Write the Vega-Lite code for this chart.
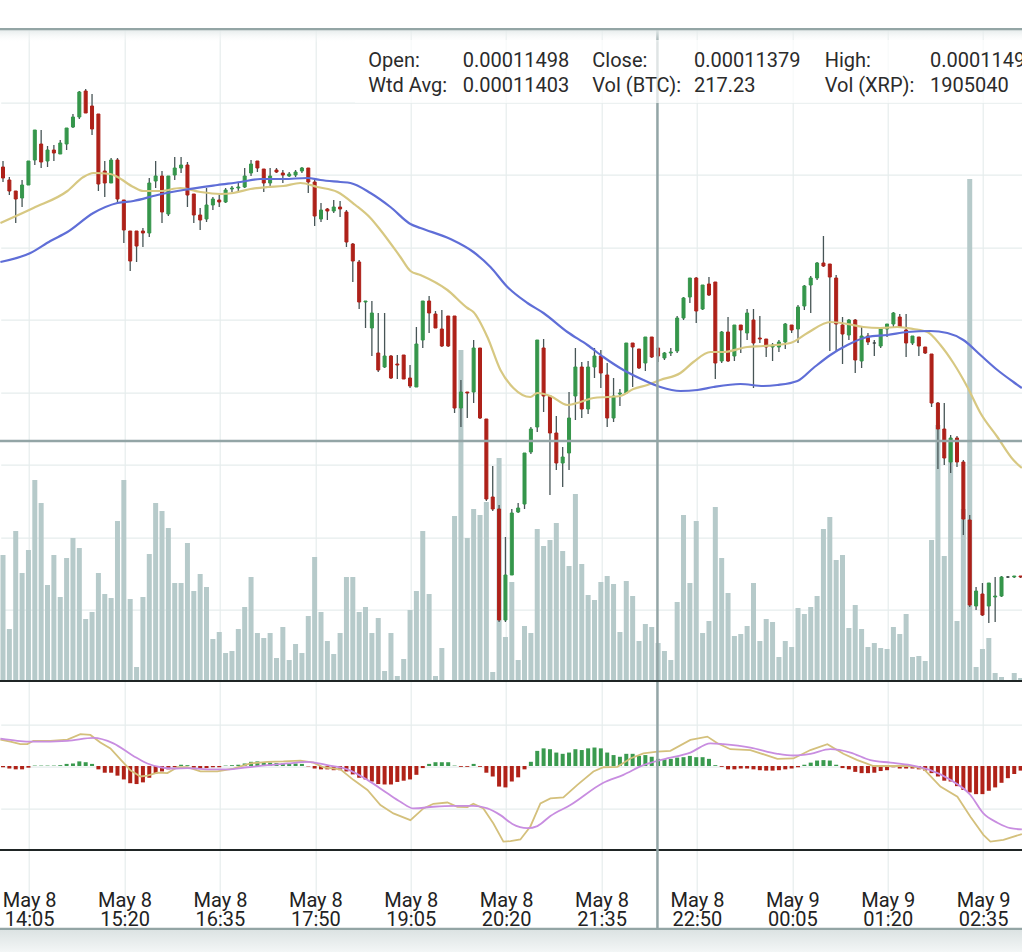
{
"$schema":"https://vega.github.io/schema/vega-lite/v6.json",
"background":"white",
"padding":{"left":0,"right":0,"top":28,"bottom":0},
"config":{"view":{"stroke":null},"font":"Roboto","axis":{"gridColor":"#e6eded","gridWidth":1.2,"translate":1.2,"tickSize":0,"minExtent":0}},
"datasets":{
"candles":[
{"i":0,"o":833,"h":839,"l":818,"c":822,"vol":635,"hist":-0.03},
{"i":1,"o":820,"h":823,"l":805,"c":809,"vol":265,"hist":-0.06},
{"i":2,"o":809,"h":809,"l":777,"c":801,"vol":755,"hist":-0.08},
{"i":3,"o":802,"h":820,"l":793,"c":815,"vol":545,"hist":-0.08},
{"i":4,"o":815,"h":839,"l":815,"c":839,"vol":660,"hist":-0.04},
{"i":5,"o":840,"h":870,"l":835,"c":870,"vol":1010,"hist":0.01},
{"i":6,"o":856,"h":870,"l":832,"c":838,"vol":895,"hist":0.01},
{"i":7,"o":839,"h":854,"l":833,"c":850,"vol":485,"hist":0.01},
{"i":8,"o":850,"h":855,"l":839,"c":847,"vol":635,"hist":0.01},
{"i":9,"o":846,"h":860,"l":846,"c":857,"vol":425,"hist":0.02},
{"i":10,"o":856,"h":872,"l":850,"c":872,"vol":620,"hist":0.05},
{"i":11,"o":873,"h":886,"l":872,"c":883,"vol":720,"hist":0.06},
{"i":12,"o":883,"h":909,"l":881,"c":908,"vol":670,"hist":0.11},
{"i":13,"o":909,"h":911,"l":887,"c":887,"vol":315,"hist":0.09},
{"i":14,"o":894,"h":906,"l":865,"c":871,"vol":350,"hist":0.05},
{"i":15,"o":886,"h":886,"l":809,"c":816,"vol":545,"hist":-0.08},
{"i":16,"o":829,"h":839,"l":803,"c":817,"vol":440,"hist":-0.16},
{"i":17,"o":817,"h":842,"l":817,"c":840,"vol":420,"hist":-0.16},
{"i":18,"o":840,"h":842,"l":797,"c":801,"vol":805,"hist":-0.23},
{"i":19,"o":800,"h":800,"l":757,"c":770,"vol":1010,"hist":-0.32},
{"i":20,"o":769,"h":769,"l":729,"c":739,"vol":415,"hist":-0.41},
{"i":21,"o":769,"h":769,"l":738,"c":754,"vol":75,"hist":-0.43},
{"i":22,"o":769,"h":772,"l":753,"c":767,"vol":425,"hist":-0.39},
{"i":23,"o":767,"h":822,"l":763,"c":817,"vol":640,"hist":-0.28},
{"i":24,"o":819,"h":839,"l":812,"c":824,"vol":895,"hist":-0.18},
{"i":25,"o":824,"h":829,"l":777,"c":788,"vol":855,"hist":-0.13},
{"i":26,"o":786,"h":824,"l":784,"c":824,"vol":770,"hist":-0.08},
{"i":27,"o":825,"h":843,"l":820,"c":832,"vol":495,"hist":-0.03},
{"i":28,"o":832,"h":843,"l":827,"c":835,"vol":495,"hist":0.03},
{"i":29,"o":835,"h":838,"l":793,"c":805,"vol":695,"hist":0.02},
{"i":30,"o":806,"h":806,"l":777,"c":785,"vol":455,"hist":-0.04},
{"i":31,"o":785,"h":792,"l":770,"c":780,"vol":540,"hist":-0.06},
{"i":32,"o":781,"h":812,"l":778,"c":795,"vol":475,"hist":-0.05},
{"i":33,"o":795,"h":803,"l":790,"c":801,"vol":215,"hist":-0.03},
{"i":34,"o":800,"h":805,"l":793,"c":798,"vol":250,"hist":-0.03},
{"i":35,"o":798,"h":812,"l":797,"c":810,"vol":145,"hist":0.01},
{"i":36,"o":811,"h":814,"l":808,"c":812,"vol":155,"hist":0.02},
{"i":37,"o":812,"h":817,"l":808,"c":813,"vol":265,"hist":0.03},
{"i":38,"o":813,"h":832,"l":812,"c":824,"vol":375,"hist":0.06},
{"i":39,"o":827,"h":840,"l":824,"c":836,"vol":525,"hist":0.10},
{"i":40,"o":839,"h":839,"l":828,"c":832,"vol":245,"hist":0.11},
{"i":41,"o":831,"h":831,"l":808,"c":817,"vol":220,"hist":0.08},
{"i":42,"o":817,"h":832,"l":812,"c":824,"vol":245,"hist":0.08},
{"i":43,"o":830,"h":832,"l":827,"c":828,"vol":120,"hist":0.07},
{"i":44,"o":827,"h":830,"l":817,"c":825,"vol":275,"hist":0.06},
{"i":45,"o":824,"h":828,"l":823,"c":826,"vol":110,"hist":0.06},
{"i":46,"o":825,"h":830,"l":823,"c":828,"vol":190,"hist":0.06},
{"i":47,"o":829,"h":833,"l":827,"c":832,"vol":145,"hist":0.05},
{"i":48,"o":832,"h":832,"l":807,"c":818,"vol":330,"hist":-0.01},
{"i":49,"o":818,"h":820,"l":774,"c":784,"vol":625,"hist":-0.06},
{"i":50,"o":781,"h":797,"l":778,"c":790,"vol":350,"hist":-0.08},
{"i":51,"o":791,"h":792,"l":780,"c":789,"vol":205,"hist":-0.08},
{"i":52,"o":789,"h":800,"l":787,"c":793,"vol":140,"hist":-0.10},
{"i":53,"o":793,"h":799,"l":783,"c":791,"vol":245,"hist":-0.10},
{"i":54,"o":788,"h":790,"l":753,"c":758,"vol":525,"hist":-0.13},
{"i":55,"o":756,"h":757,"l":718,"c":739,"vol":525,"hist":-0.20},
{"i":56,"o":738,"h":740,"l":691,"c":698,"vol":350,"hist":-0.28},
{"i":57,"o":698,"h":699,"l":672,"c":699,"vol":375,"hist":-0.32},
{"i":58,"o":672,"h":699,"l":644,"c":687,"vol":245,"hist":-0.37},
{"i":59,"o":647,"h":687,"l":628,"c":630,"vol":320,"hist":-0.43},
{"i":60,"o":633,"h":687,"l":632,"c":644,"vol":55,"hist":-0.44},
{"i":61,"o":644,"h":645,"l":621,"c":622,"vol":245,"hist":-0.44},
{"i":62,"o":636,"h":645,"l":621,"c":635,"vol":30,"hist":-0.38},
{"i":63,"o":645,"h":645,"l":621,"c":621,"vol":115,"hist":-0.35},
{"i":64,"o":622,"h":635,"l":612,"c":614,"vol":360,"hist":-0.32},
{"i":65,"o":613,"h":673,"l":613,"c":656,"vol":455,"hist":-0.21},
{"i":66,"o":660,"h":699,"l":652,"c":699,"vol":755,"hist":-0.05},
{"i":67,"o":699,"h":704,"l":667,"c":687,"vol":440,"hist":0.05},
{"i":68,"o":686,"h":689,"l":672,"c":672,"vol":30,"hist":0.09},
{"i":69,"o":671,"h":690,"l":653,"c":654,"vol":170,"hist":0.09},
{"i":70,"o":684,"h":684,"l":653,"c":654,"vol":0,"hist":0.09},
{"i":71,"o":684,"h":684,"l":587,"c":592,"vol":830,"hist":0.01},
{"i":72,"o":592,"h":620,"l":573,"c":608,"vol":1660,"hist":-0.02},
{"i":73,"o":608,"h":608,"l":582,"c":607,"vol":720,"hist":-0.02},
{"i":74,"o":608,"h":660,"l":597,"c":652,"vol":865,"hist":0.05},
{"i":75,"o":652,"h":652,"l":581,"c":582,"vol":835,"hist":-0.02},
{"i":76,"o":581,"h":581,"l":499,"c":501,"vol":900,"hist":-0.16},
{"i":77,"o":503,"h":534,"l":489,"c":491,"vol":50,"hist":-0.25},
{"i":78,"o":491,"h":495,"l":378,"c":380,"vol":1120,"hist":-0.49},
{"i":79,"o":380,"h":463,"l":378,"c":425,"vol":225,"hist":-0.51},
{"i":80,"o":425,"h":491,"l":425,"c":487,"vol":500,"hist":-0.37},
{"i":81,"o":488,"h":497,"l":487,"c":492,"vol":110,"hist":-0.27},
{"i":82,"o":496,"h":547,"l":491,"c":547,"vol":280,"hist":-0.08},
{"i":83,"o":548,"h":573,"l":546,"c":571,"vol":245,"hist":0.10},
{"i":84,"o":573,"h":660,"l":568,"c":660,"vol":765,"hist":0.36},
{"i":85,"o":652,"h":661,"l":588,"c":604,"vol":680,"hist":0.42},
{"i":86,"o":604,"h":605,"l":505,"c":567,"vol":710,"hist":0.40},
{"i":87,"o":567,"h":584,"l":530,"c":537,"vol":795,"hist":0.32},
{"i":88,"o":537,"h":553,"l":513,"c":543,"vol":655,"hist":0.29},
{"i":89,"o":547,"h":608,"l":530,"c":582,"vol":580,"hist":0.32},
{"i":90,"o":604,"h":652,"l":580,"c":633,"vol":940,"hist":0.40},
{"i":91,"o":633,"h":638,"l":582,"c":591,"vol":590,"hist":0.38},
{"i":92,"o":591,"h":639,"l":586,"c":633,"vol":435,"hist":0.42},
{"i":93,"o":633,"h":652,"l":622,"c":644,"vol":410,"hist":0.44},
{"i":94,"o":644,"h":650,"l":612,"c":627,"vol":500,"hist":0.42},
{"i":95,"o":625,"h":637,"l":573,"c":582,"vol":530,"hist":0.32},
{"i":96,"o":582,"h":622,"l":578,"c":604,"vol":490,"hist":0.26},
{"i":97,"o":606,"h":611,"l":594,"c":607,"vol":250,"hist":0.22},
{"i":98,"o":607,"h":657,"l":607,"c":657,"vol":505,"hist":0.29},
{"i":99,"o":657,"h":657,"l":613,"c":653,"vol":430,"hist":0.29},
{"i":100,"o":651,"h":651,"l":631,"c":632,"vol":205,"hist":0.24},
{"i":101,"o":637,"h":663,"l":629,"c":663,"vol":290,"hist":0.26},
{"i":102,"o":663,"h":663,"l":642,"c":643,"vol":275,"hist":0.22},
{"i":103,"o":652,"h":652,"l":638,"c":644,"vol":195,"hist":0.17},
{"i":104,"o":642,"h":648,"l":640,"c":647,"vol":155,"hist":0.16},
{"i":105,"o":647,"h":652,"l":644,"c":648,"vol":110,"hist":0.17},
{"i":106,"o":649,"h":684,"l":647,"c":682,"vol":400,"hist":0.20},
{"i":107,"o":682,"h":703,"l":680,"c":702,"vol":835,"hist":0.21},
{"i":108,"o":703,"h":722,"l":697,"c":722,"vol":495,"hist":0.24},
{"i":109,"o":722,"h":723,"l":677,"c":689,"vol":805,"hist":0.21},
{"i":110,"o":691,"h":715,"l":690,"c":715,"vol":245,"hist":0.21},
{"i":111,"o":716,"h":723,"l":704,"c":705,"vol":305,"hist":0.17},
{"i":112,"o":718,"h":718,"l":621,"c":637,"vol":875,"hist":0.02},
{"i":113,"o":639,"h":669,"l":637,"c":668,"vol":620,"hist":-0.02},
{"i":114,"o":668,"h":683,"l":638,"c":639,"vol":445,"hist":-0.08},
{"i":115,"o":644,"h":675,"l":639,"c":675,"vol":230,"hist":-0.08},
{"i":116,"o":675,"h":675,"l":647,"c":670,"vol":240,"hist":-0.06},
{"i":117,"o":667,"h":691,"l":660,"c":687,"vol":280,"hist":-0.06},
{"i":118,"o":680,"h":691,"l":612,"c":657,"vol":495,"hist":-0.08},
{"i":119,"o":662,"h":684,"l":657,"c":661,"vol":205,"hist":-0.10},
{"i":120,"o":661,"h":661,"l":643,"c":653,"vol":315,"hist":-0.11},
{"i":121,"o":653,"h":657,"l":639,"c":655,"vol":300,"hist":-0.11},
{"i":122,"o":653,"h":660,"l":648,"c":658,"vol":125,"hist":-0.10},
{"i":123,"o":658,"h":677,"l":651,"c":676,"vol":205,"hist":-0.08},
{"i":124,"o":675,"h":675,"l":667,"c":670,"vol":175,"hist":-0.06},
{"i":125,"o":671,"h":695,"l":657,"c":693,"vol":370,"hist":-0.03},
{"i":126,"o":694,"h":715,"l":690,"c":714,"vol":340,"hist":0.03},
{"i":127,"o":715,"h":724,"l":687,"c":722,"vol":375,"hist":0.08},
{"i":128,"o":722,"h":738,"l":720,"c":737,"vol":430,"hist":0.13},
{"i":129,"o":737,"h":764,"l":733,"c":734,"vol":765,"hist":0.14},
{"i":130,"o":736,"h":736,"l":649,"c":723,"vol":825,"hist":0.13},
{"i":131,"o":722,"h":725,"l":648,"c":676,"vol":610,"hist":0.03},
{"i":132,"o":675,"h":683,"l":636,"c":666,"vol":635,"hist":-0.05},
{"i":133,"o":665,"h":681,"l":660,"c":680,"vol":270,"hist":-0.08},
{"i":134,"o":680,"h":681,"l":627,"c":640,"vol":385,"hist":-0.14},
{"i":135,"o":639,"h":674,"l":632,"c":664,"vol":265,"hist":-0.17},
{"i":136,"o":664,"h":667,"l":655,"c":658,"vol":175,"hist":-0.17},
{"i":137,"o":657,"h":660,"l":644,"c":657,"vol":195,"hist":-0.16},
{"i":138,"o":654,"h":673,"l":652,"c":671,"vol":170,"hist":-0.12},
{"i":139,"o":671,"h":676,"l":663,"c":676,"vol":165,"hist":-0.10},
{"i":140,"o":676,"h":688,"l":673,"c":687,"vol":275,"hist":-0.03},
{"i":141,"o":683,"h":686,"l":673,"c":673,"vol":240,"hist":-0.06},
{"i":142,"o":670,"h":686,"l":643,"c":657,"vol":340,"hist":-0.06},
{"i":143,"o":657,"h":664,"l":655,"c":664,"vol":125,"hist":-0.06},
{"i":144,"o":663,"h":663,"l":644,"c":654,"vol":130,"hist":-0.08},
{"i":145,"o":653,"h":653,"l":646,"c":647,"vol":105,"hist":-0.11},
{"i":146,"o":646,"h":646,"l":593,"c":597,"vol":710,"hist":-0.17},
{"i":147,"o":597,"h":598,"l":531,"c":571,"vol":1285,"hist":-0.25},
{"i":148,"o":571,"h":597,"l":535,"c":542,"vol":630,"hist":-0.35},
{"i":149,"o":538,"h":565,"l":527,"c":562,"vol":1210,"hist":-0.37},
{"i":150,"o":562,"h":564,"l":533,"c":538,"vol":305,"hist":-0.48},
{"i":151,"o":538,"h":540,"l":465,"c":481,"vol":865,"hist":-0.57},
{"i":152,"o":480,"h":485,"l":393,"c":395,"vol":2515,"hist":-0.63},
{"i":153,"o":394,"h":413,"l":390,"c":409,"vol":75,"hist":-0.67},
{"i":154,"o":406,"h":417,"l":384,"c":385,"vol":165,"hist":-0.67},
{"i":155,"o":394,"h":417,"l":377,"c":417,"vol":220,"hist":-0.59},
{"i":156,"o":403,"h":423,"l":378,"c":404,"vol":45,"hist":-0.51},
{"i":157,"o":404,"h":424,"l":403,"c":423,"vol":25,"hist":-0.40},
{"i":158,"o":423,"h":424,"l":422,"c":423,"vol":0,"hist":-0.29},
{"i":159,"o":423,"h":424,"l":422,"c":424,"vol":45,"hist":-0.19},
{"i":160,"o":424,"h":424,"l":422,"c":423,"vol":20,"hist":-0.11}
],
"ma1":[
{"i":-0.41,"v":777},{"i":4.78,"v":792},{"i":10.13,"v":809},{"i":12.64,"v":823},{"i":14.21,"v":827},{"i":16.89,"v":826},{"i":17.99,"v":823},{"i":20.5,"v":813},{"i":22.08,"v":809},{"i":24.75,"v":809},{"i":27.89,"v":812},{"i":31.04,"v":808},{"i":34.18,"v":806},{"i":36.23,"v":807},{"i":38.9,"v":811},{"i":41.57,"v":813},{"i":44.06,"v":814},{"i":46.76,"v":817},{"i":49.43,"v":813},{"i":52.58,"v":808},{"i":55.4,"v":795},{"i":57.77,"v":782},{"i":59.34,"v":770},{"i":62.48,"v":743},{"i":64.06,"v":729},{"i":65.63,"v":725},{"i":69.87,"v":710},{"i":73.02,"v":692},{"i":73.96,"v":688},{"i":76.16,"v":663},{"i":78.21,"v":630},{"i":80.25,"v":612},{"i":82.92,"v":603},{"i":84.02,"v":607},{"i":86.07,"v":604},{"i":88.74,"v":595},{"i":90.79,"v":598},{"i":92.83,"v":602},{"i":95.03,"v":603},{"i":97.08,"v":604},{"i":99.12,"v":611},{"i":101.32,"v":615},{"i":103.36,"v":620},{"i":106.51,"v":627},{"i":108.55,"v":638},{"i":111.23,"v":648},{"i":113.27,"v":648},{"i":117.04,"v":653},{"i":119.56,"v":654},{"i":123.8,"v":657},{"i":126.48,"v":667},{"i":130.09,"v":678},{"i":132.77,"v":676},{"i":135.28,"v":673},{"i":137.96,"v":672},{"i":140.63,"v":673},{"i":143.14,"v":671},{"i":145.35,"v":668},{"i":147.39,"v":655},{"i":149.43,"v":637},{"i":151.63,"v":613},{"i":153.68,"v":587},{"i":156.35,"v":563},{"i":158.87,"v":540},{"i":160.2,"v":532}
],
"ma2":[
{"i":-0.41,"v":738},{"i":4.31,"v":747},{"i":7.45,"v":759},{"i":10.13,"v":768},{"i":14.21,"v":787},{"i":17.99,"v":797},{"i":20.5,"v":799},{"i":24.28,"v":805},{"i":28.36,"v":810},{"i":33.71,"v":815},{"i":37.33,"v":818},{"i":40.47,"v":821},{"i":44.09,"v":821},{"i":47.86,"v":822},{"i":49.91,"v":820},{"i":53.05,"v":818},{"i":54.62,"v":817},{"i":57.77,"v":807},{"i":60.91,"v":793},{"i":64.06,"v":776},{"i":65.63,"v":772},{"i":70.35,"v":761},{"i":73.96,"v":748},{"i":76.64,"v":733},{"i":79.31,"v":713},{"i":82.45,"v":697},{"i":84.97,"v":687},{"i":88.74,"v":668},{"i":91.89,"v":655},{"i":94.4,"v":643},{"i":97.55,"v":630},{"i":100.69,"v":620},{"i":103.36,"v":613},{"i":106.51,"v":609},{"i":109.18,"v":610},{"i":111.7,"v":613},{"i":115.94,"v":616},{"i":119.56,"v":614},{"i":121.76,"v":615},{"i":124.91,"v":619},{"i":127.42,"v":632},{"i":130.09,"v":645},{"i":132.77,"v":655},{"i":135.91,"v":663},{"i":139.06,"v":665},{"i":142.2,"v":668},{"i":145.82,"v":669},{"i":148.49,"v":667},{"i":151.0,"v":660},{"i":153.68,"v":645},{"i":156.35,"v":630},{"i":158.87,"v":618},{"i":160.2,"v":612}
],
"macd":[
{"i":-0.41,"v":0.63},{"i":1.16,"v":0.58},{"i":2.74,"v":0.52},{"i":3.84,"v":0.52},{"i":4.78,"v":0.60},{"i":7.45,"v":0.60},{"i":10.13,"v":0.63},{"i":12.17,"v":0.76},{"i":13.74,"v":0.74},{"i":15.31,"v":0.56},{"i":16.89,"v":0.42},{"i":18.46,"v":0.16},{"i":20.03,"v":-0.10},{"i":21.6,"v":-0.25},{"i":22.7,"v":-0.23},{"i":24.28,"v":-0.16},{"i":25.85,"v":-0.17},{"i":27.42,"v":-0.03},{"i":28.99,"v":-0.03},{"i":31.04,"v":-0.13},{"i":33.71,"v":-0.13},{"i":36.23,"v":-0.06},{"i":38.9,"v":0.06},{"i":41.57,"v":0.10},{"i":44.09,"v":0.11},{"i":46.76,"v":0.13},{"i":48.81,"v":0.08},{"i":50.38,"v":-0.03},{"i":53.05,"v":-0.08},{"i":55.09,"v":-0.33},{"i":57.3,"v":-0.57},{"i":59.34,"v":-0.93},{"i":61.38,"v":-1.13},{"i":64.06,"v":-1.29},{"i":66.1,"v":-1.01},{"i":67.67,"v":-0.90},{"i":69.87,"v":-0.87},{"i":71.45,"v":-0.97},{"i":73.02,"v":-0.98},{"i":73.96,"v":-0.90},{"i":75.53,"v":-1.01},{"i":77.11,"v":-1.37},{"i":78.68,"v":-1.80},{"i":79.78,"v":-1.79},{"i":81.35,"v":-1.75},{"i":82.92,"v":-1.44},{"i":84.5,"v":-0.89},{"i":86.07,"v":-0.77},{"i":88.11,"v":-0.75},{"i":90.31,"v":-0.45},{"i":92.83,"v":-0.13},{"i":94.4,"v":-0.03},{"i":96.6,"v":-0.02},{"i":98.65,"v":0.18},{"i":100.69,"v":0.30},{"i":102.89,"v":0.34},{"i":104.94,"v":0.36},{"i":108.08,"v":0.62},{"i":110.75,"v":0.70},{"i":112.33,"v":0.54},{"i":114.37,"v":0.40},{"i":117.52,"v":0.38},{"i":121.76,"v":0.17},{"i":124.28,"v":0.18},{"i":126.95,"v":0.38},{"i":129.62,"v":0.52},{"i":132.13,"v":0.29},{"i":134.34,"v":0.14},{"i":136.86,"v":0.0},{"i":139.53,"v":0.0},{"i":142.67,"v":0.0},{"i":144.72,"v":-0.06},{"i":147.39,"v":-0.49},{"i":150.06,"v":-0.73},{"i":152.11,"v":-1.21},{"i":154.15,"v":-1.64},{"i":155.25,"v":-1.80},{"i":157.3,"v":-1.76},{"i":160.2,"v":-1.62}
],
"sig":[
{"i":-0.41,"v":0.65},{"i":2.26,"v":0.60},{"i":4.78,"v":0.58},{"i":10.13,"v":0.60},{"i":14.21,"v":0.67},{"i":17.36,"v":0.54},{"i":20.5,"v":0.24},{"i":22.7,"v":0.06},{"i":24.75,"v":-0.03},{"i":26.79,"v":-0.06},{"i":28.99,"v":-0.05},{"i":32.14,"v":-0.08},{"i":35.28,"v":-0.08},{"i":38.43,"v":-0.03},{"i":41.57,"v":0.02},{"i":44.72,"v":0.06},{"i":47.86,"v":0.10},{"i":51.01,"v":0.02},{"i":54.15,"v":-0.08},{"i":57.3,"v":-0.33},{"i":60.44,"v":-0.65},{"i":62.48,"v":-0.85},{"i":64.53,"v":-1.01},{"i":67.67,"v":-0.97},{"i":70.82,"v":-0.95},{"i":73.96,"v":-0.95},{"i":76.16,"v":-1.01},{"i":78.21,"v":-1.17},{"i":80.09,"v":-1.38},{"i":82.45,"v":-1.48},{"i":84.02,"v":-1.43},{"i":86.07,"v":-1.19},{"i":89.21,"v":-0.93},{"i":94.4,"v":-0.40},{"i":97.55,"v":-0.21},{"i":100.69,"v":0.02},{"i":103.84,"v":0.16},{"i":108.08,"v":0.32},{"i":111.23,"v":0.54},{"i":113.27,"v":0.52},{"i":117.52,"v":0.44},{"i":121.76,"v":0.29},{"i":124.28,"v":0.25},{"i":126.95,"v":0.29},{"i":130.09,"v":0.40},{"i":133.24,"v":0.32},{"i":136.38,"v":0.14},{"i":139.53,"v":0.08},{"i":142.67,"v":0.02},{"i":145.82,"v":-0.10},{"i":148.96,"v":-0.33},{"i":152.11,"v":-0.69},{"i":154.15,"v":-1.13},{"i":156.35,"v":-1.35},{"i":158.4,"v":-1.48},{"i":160.2,"v":-1.51}
]
},
"spacing":0,
"bounds":"flush",
"vconcat":[
{
"width":1022,"height":654,
"resolve":{"scale":{"y":"independent"}},
"layer":[
{"data":{"name":"candles"},"mark":{"type":"bar","width":5,"color":"#b6caca"},
"encoding":{"x":{"field":"i","type":"quantitative","scale":{"domain":[-0.472,160.22],"nice":false,"zero":false,"padding":0},"axis":{"values":[4,19,34,49,64,79,94,109,124,139,154],"grid":true,"labels":false,"ticks":false,"domain":false,"title":null}},
"y":{"field":"vol","type":"quantitative","scale":{"domain":[0,3270],"nice":false},"axis":null}}},
{"data":{"name":"candles"},"mark":{"type":"rule","color":"#475556","strokeWidth":1.3},
"encoding":{"x":{"field":"i","type":"quantitative","scale":{"domain":[-0.472,160.22],"nice":false,"zero":false,"padding":0}},
"y":{"field":"l","type":"quantitative","scale":{"domain":[318,972],"nice":false,"zero":false},"axis":{"orient":"right","values":[390.8,463.3,535.8,608.3,680.8,753.3,825.8,898.3],"grid":true,"labels":false,"ticks":false,"domain":false,"title":null}},
"y2":{"field":"h"}}},
{"data":{"name":"candles"},"mark":{"type":"bar","width":3,"strokeWidth":1},
"encoding":{"x":{"field":"i","type":"quantitative","scale":{"domain":[-0.472,160.22],"nice":false,"zero":false,"padding":0}},
"y":{"field":"o","type":"quantitative","scale":{"domain":[318,972],"nice":false,"zero":false},"axis":null},
"y2":{"field":"c"},
"fill":{"condition":[{"test":"abs(datum.c-datum.o)<0.5","value":"#3a4545"},{"test":"datum.c>datum.o","value":"#35964b"}],"value":"#ae2119"},
"stroke":{"condition":[{"test":"abs(datum.c-datum.o)<0.5","value":"#3a4545"},{"test":"datum.c>datum.o","value":"#35964b"}],"value":"#ae2119"}}},
{"data":{"name":"ma1"},"mark":{"type":"line","strokeWidth":2.2,"color":"#d7c882","interpolate":"monotone","clip":true},
"encoding":{"x":{"field":"i","type":"quantitative","scale":{"domain":[-0.472,160.22],"nice":false,"zero":false,"padding":0}},
"y":{"field":"v","type":"quantitative","scale":{"domain":[318,972],"nice":false,"zero":false},"axis":null}}},
{"data":{"name":"ma2"},"mark":{"type":"line","strokeWidth":2.2,"color":"#5f6ed7","interpolate":"monotone","clip":true},
"encoding":{"x":{"field":"i","type":"quantitative","scale":{"domain":[-0.472,160.22],"nice":false,"zero":false,"padding":0}},
"y":{"field":"v","type":"quantitative","scale":{"domain":[318,972],"nice":false,"zero":false},"axis":null}}},
{"data":{"values":[{}]},"mark":{"type":"rule","color":"#93a5a6","strokeWidth":2.5,"clip":true},
"encoding":{"y":{"datum":559,"type":"quantitative","scale":{"domain":[318,972],"nice":false,"zero":false},"axis":null}}},
{"data":{"values":[{}]},"mark":{"type":"rule","color":"#93a5a6","strokeWidth":2.5,"clip":true},
"encoding":{"x":{"datum":102.9,"type":"quantitative","scale":{"domain":[-0.472,160.22],"nice":false,"zero":false,"padding":0}},"y":{"datum":971,"type":"quantitative","scale":{"domain":[318,972],"nice":false,"zero":false},"axis":null},"y2":{"datum":318}}},
{"data":{"values":[{}]},"mark":{"type":"rect","clip":true,"color":{"gradient":"linear","x1":0,"y1":0,"x2":0,"y2":1,"stops":[{"offset":0,"color":"#e1e8e8"},{"offset":1,"color":"rgba(255,255,255,0)"}]}},
"encoding":{"y":{"datum":971,"type":"quantitative","scale":{"domain":[318,972],"nice":false,"zero":false},"axis":null},"y2":{"datum":957}}},
{"data":{"values":[{}]},"mark":{"type":"rule","color":"#93a5a5","strokeWidth":2.4,"clip":true},
"encoding":{"y":{"datum":971,"type":"quantitative","scale":{"domain":[318,972],"nice":false,"zero":false},"axis":null}}},
{"data":{"values":[{}]},"mark":{"type":"rule","color":"#1f2525","strokeWidth":2,"clip":true},
"encoding":{"y":{"datum":319,"type":"quantitative","scale":{"domain":[318,972],"nice":false,"zero":false},"axis":null}}},
{"data":{"values":[{}]},"mark":{"type":"rect","color":"white","opacity":0.7,"clip":true},
"encoding":{"x":{"datum":55.35,"type":"quantitative","scale":{"domain":[-0.472,160.22],"nice":false,"zero":false,"padding":0}},"x2":{"datum":160.22},
"y":{"datum":960,"type":"quantitative","scale":{"domain":[318,972],"nice":false,"zero":false},"axis":null},"y2":{"datum":897}}},
{"data":{"values":[{}]},"mark":{"type":"text","align":"left","baseline":"alphabetic","fontSize":20,"font":"Roboto","color":"#2b2b2b","lineHeight":25,"text":["Open:","Wtd Avg:"]},
"encoding":{"x":{"datum":57.44,"type":"quantitative","scale":{"domain":[-0.472,160.22],"nice":false,"zero":false,"padding":0}},"y":{"datum":933.3,"type":"quantitative","scale":{"domain":[318,972],"nice":false,"zero":false},"axis":null}}},
{"data":{"values":[{}]},"mark":{"type":"text","align":"left","baseline":"alphabetic","fontSize":20,"font":"Roboto","color":"#2b2b2b","lineHeight":25,"text":["0.00011498","0.00011403"]},
"encoding":{"x":{"datum":72.28,"type":"quantitative","scale":{"domain":[-0.472,160.22],"nice":false,"zero":false,"padding":0}},"y":{"datum":933.3,"type":"quantitative","scale":{"domain":[318,972],"nice":false,"zero":false},"axis":null}}},
{"data":{"values":[{}]},"mark":{"type":"text","align":"left","baseline":"alphabetic","fontSize":20,"font":"Roboto","color":"#2b2b2b","lineHeight":25,"text":["Close:","Vol (BTC):"]},
"encoding":{"x":{"datum":92.66,"type":"quantitative","scale":{"domain":[-0.472,160.22],"nice":false,"zero":false,"padding":0}},"y":{"datum":933.3,"type":"quantitative","scale":{"domain":[318,972],"nice":false,"zero":false},"axis":null}}},
{"data":{"values":[{}]},"mark":{"type":"text","align":"left","baseline":"alphabetic","fontSize":20,"font":"Roboto","color":"#2b2b2b","lineHeight":25,"text":["0.00011379","217.23"]},
"encoding":{"x":{"datum":108.65,"type":"quantitative","scale":{"domain":[-0.472,160.22],"nice":false,"zero":false,"padding":0}},"y":{"datum":933.3,"type":"quantitative","scale":{"domain":[318,972],"nice":false,"zero":false},"axis":null}}},
{"data":{"values":[{}]},"mark":{"type":"text","align":"left","baseline":"alphabetic","fontSize":20,"font":"Roboto","color":"#2b2b2b","lineHeight":25,"text":["High:","Vol (XRP):"]},
"encoding":{"x":{"datum":129.2,"type":"quantitative","scale":{"domain":[-0.472,160.22],"nice":false,"zero":false,"padding":0}},"y":{"datum":933.3,"type":"quantitative","scale":{"domain":[318,972],"nice":false,"zero":false},"axis":null}}},
{"data":{"values":[{}]},"mark":{"type":"text","align":"left","baseline":"alphabetic","fontSize":20,"font":"Roboto","color":"#2b2b2b","lineHeight":25,"text":["0.00011498","1905040"]},
"encoding":{"x":{"datum":145.75,"type":"quantitative","scale":{"domain":[-0.472,160.22],"nice":false,"zero":false,"padding":0}},"y":{"datum":933.3,"type":"quantitative","scale":{"domain":[318,972],"nice":false,"zero":false},"axis":null}}}
]
},
{
"width":1022,"height":248,
"layer":[
{"data":{"name":"candles"},"mark":{"type":"bar","width":4},
"encoding":{"x":{"field":"i","type":"quantitative","scale":{"domain":[-0.472,160.22],"nice":false,"zero":false,"padding":0},
"axis":{"values":[4,19,34,49,64,79,94,109,124,139,154],"grid":true,"ticks":false,"tickSize":0,"domain":false,"labelPadding":-24.7,"labelFontSize":20,"labelFont":"Roboto","labelColor":"#222222","labelBaseline":"alphabetic","labelLineHeight":19.5,"labelOverlap":false,"labelFlush":false,"title":null,
"labelExpr":"['May ' + (825 + 5 * datum.value >= 1440 ? '9' : '8'), ' ' + utcFormat(utc(2014, 4, 8, 0, 825 + 5 * datum.value), '%H:%M')]"}},
"y":{"field":"hist","type":"quantitative","scale":{"domain":[-3.905,2],"nice":false},"axis":{"orient":"right","values":[-1,0,1],"grid":true,"labels":false,"ticks":false,"domain":false,"title":null}},
"color":{"condition":{"test":"datum.hist>=0","value":"#3a9a4f"},"value":"#b02218"}}},
{"data":{"name":"macd"},"mark":{"type":"line","strokeWidth":1.8,"color":"#d4c07c","clip":true},
"encoding":{"x":{"field":"i","type":"quantitative"},"y":{"field":"v","type":"quantitative"}}},
{"data":{"name":"sig"},"mark":{"type":"line","strokeWidth":1.8,"color":"#c88de0","interpolate":"monotone","clip":true},
"encoding":{"x":{"field":"i","type":"quantitative"},"y":{"field":"v","type":"quantitative"}}},
{"data":{"values":[{}]},"mark":{"type":"rule","color":"#1f2525","strokeWidth":2,"clip":true},
"encoding":{"y":{"datum":-2,"type":"quantitative"}}},
{"data":{"values":[{}]},"mark":{"type":"rule","color":"#93a5a5","strokeWidth":2.2,"clip":true},
"encoding":{"y":{"datum":-3.88,"type":"quantitative"}}},
{"data":{"values":[{}]},"mark":{"type":"rule","color":"#93a5a6","strokeWidth":2.5,"clip":true},
"encoding":{"x":{"datum":102.9,"type":"quantitative"}}}
]
},
{
"width":1022,"height":22,
"data":{"values":[{}]},
"mark":{"type":"rect","color":{"gradient":"linear","x1":0,"y1":0,"x2":0,"y2":1,"stops":[{"offset":0,"color":"#dce3e3"},{"offset":1,"color":"#f3f6f6"}]}},
"encoding":{}
}
]
}
